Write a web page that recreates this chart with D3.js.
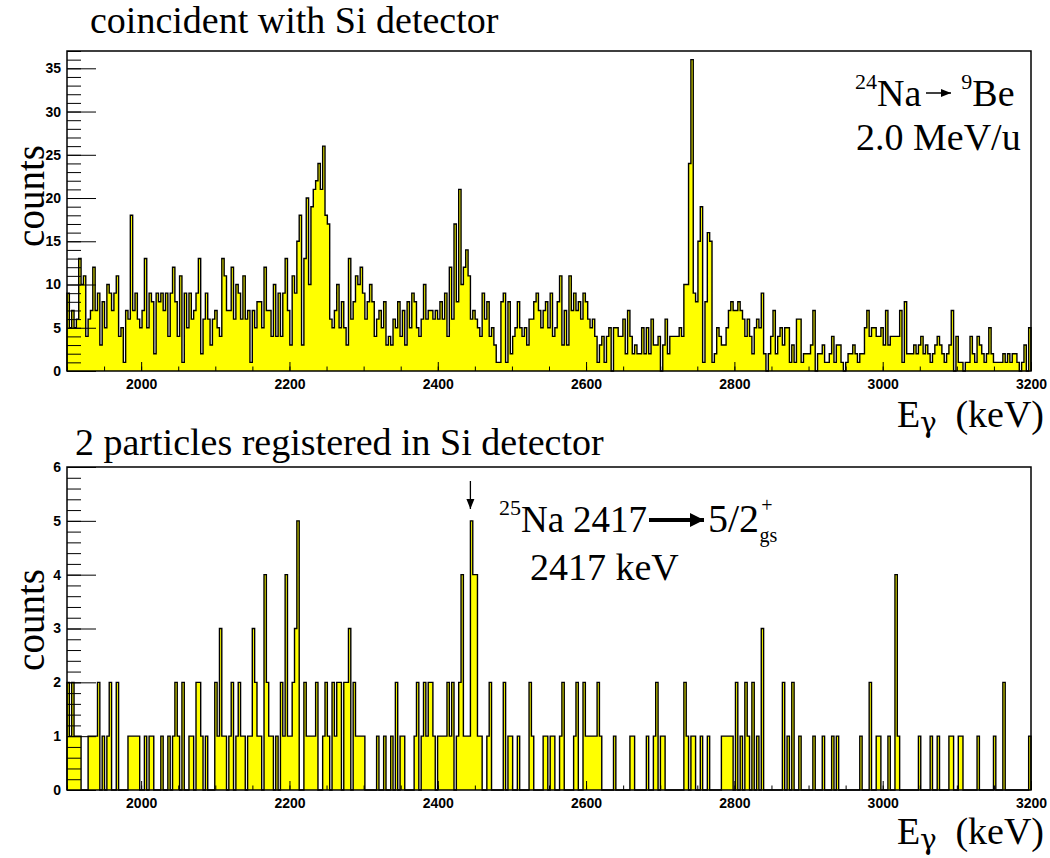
<!DOCTYPE html>
<html>
<head>
<meta charset="utf-8">
<script src="https://cdn.jsdelivr.net/npm/d3@7"></script>
<style>
  body { margin: 0; background: #fff; }
  svg { display: block; }
  .tick text { font-family: "Liberation Sans", Arial, sans-serif; font-weight: bold; font-size: 14px; fill: #000; }
  .tick line { stroke: #000; stroke-width: 1; }
  .serif { font-family: "Liberation Serif", "Times New Roman", serif; fill: #000; }
</style>
</head>
<body>
<svg id="chart" width="1050" height="858"></svg>
<script>
// energy range of both spectra (keV)
const energyRange = [1900, 3200];

// counts per bin, coincident with Si detector (left to right)
const upperCounts = [
  9,5,7,5,6,13,10,11,4,6, 7,12,7,9,3,8,5,10,9,7, 9,11,4,5,1,7,6,18,7,9, 6,5,7,13,5,9,8,2,9,8,
  9,7,9,4,9,12,8,4,11,1, 9,5,9,6,7,9,13,2,6,9, 6,3,6,7,5,4,13,11,7,7, 12,6,10,9,6,11,6,7,1,7,
  5,8,
  8,5,12,7,7,4,10,4,9,
  4,9,13,7,3,11,9,15,18,3, 13,20,10,19,21,22,24,21,26,18, 17,6,5,7,10,5,8,5,3,13, 6,8,11,10,12,9,6,8,10,8,
  4,6,7,5,8,3,4,3,6,5, 8,4,7,3,8,5,9,8,5,4, 6,10,6,7,7,6,7,6,8,6, 9,4,12,6,17,8,21,10,12,14,
  11,6,7,6,5,4,9,6,8,4, 5,3,1,
  1,8,9,1,8,2,4,5,8,5, 4,5,3,6,6,8,9,7,5,7, 8,5,9,4,5,8,11,3,7,3, 11,7,9,7,8,6,9,8,6,5,
  6,4,1,3,4,1,4,5,0,5, 5,4,4,6,2,7,4,2,3,2,
  2,5,2,5,2,6,3,3,4,0, 3,6,2,4,4,4,4,5,4,10, 10,24,36,9,8,15,19,1,8,16, 15,1,2,5,4,3,3,5,7,8,
  7,7,8,7,6,4,6,4,2,5, 6,5,9,2,0,2,4,7,2,
  4,5,3,5,5,1,3,1,6,6, 1,2,2,2,3,7,0,2,2,3, 1,1,2,4,1,3,3,1,0,1, 2,2,3,2,1,2,2,5,7,4,
  5,5,4,4,5,3,7,3,4,4, 4,4,7,1,8,2,2,2,3,2, 3,4,2,3,2,1,2,3,4,3, 2,1,2,3,7,0,4,1,1,0,
  1,1,4,2,1,4,3,2,1,2, 5,2,1,1,1,1,2,1,2,1, 2,2,1,0,1,3,0,5
];

// counts per bin, 2 particles registered in Si detector
const lowerCounts = [
  2,1,2,1,1,1,0,0,0,1, 1,1,1,2,0,1,0,1,2,0, 0,2,0,0,0,0,1,1,1,1, 1,0,0,1,0,1,1,0,0,0,
  1,0,0,1,0,1,2,1,0,2, 0,0,1,1,0,2,2,1,0,1, 0,0,0,2,1,3,1,1,0,1, 2,0,1,2,1,1,0,1,1,3,
  2,1,1,0,4,2,1,1,0,1, 0,2,1,4,1,1,2,3,5,0, 0,2,1,1,1,1,2,0,0,1, 2,1,0,2,1,2,2,0,2,2,
  3,0,2,1,1,1,1,0,0,0, 0,0,1,0,0,1,0,0,1,0, 2,0,1,1,0,0,0,0,1,2, 0,1,2,1,2,2,1,0,1,1,
  1,1,2,1,2,0,1,2,4,1, 1,1,5,4,4,1,1,0,0,1, 2,0,0,0,0,0,2,0,1,1, 0,0,1,0,0,0,0,2,1,0,
  0,0,0,1,1,0,1,1,0,0, 1,2,0,0,0,0,1,2,0,0, 2,1,1,1,1,1,2,1,0,0, 0,0,0,1,0,0,0,0,0,0,
  1,1,0,0,0,0,0,1,0,0, 1,2,0,1,1,0,0,0,0,0, 0,0,0,2,1,0,1,1,0,0, 1,0,0,1,0,0,0,0,0,1,
  1,1,1,1,0,2,0,1,0,2, 1,0,2,0,1,0,3,0,0,0, 0,0,0,0,0,2,0,1,0,2, 0,0,1,0,0,0,0,0,1,0,
  0,0,1,0,0,0,1,0,1,0, 0,0,0,0,0,0,0,0,1,0, 0,0,2,0,0,1,1,0,0,0, 1,0,0,4,1,0,0,0,0,0,
  0,0,0,1,0,0,0,0,1,0, 0,1,0,0,0,0,1,1,0,0, 1,1,0,0,0,0,0,0,1,0, 0,0,0,0,0,1,0,0,0,2,
  0,0,0,0,0,0,0,0,0,0, 1
];

const xMajor = [2000, 2200, 2400, 2600, 2800, 3000, 3200];
const upperYMajor = [0, 5, 10, 15, 20, 25, 30, 35];
const lowerYMajor = [0, 1, 2, 3, 4, 5, 6];

const svg = d3.select('#chart');

function drawPanel(cfg) {
    const x = d3.scaleLinear().domain(energyRange).range([67, 1031]);
    const y = d3.scaleLinear().domain([0, cfg.yMax]).range([cfg.bottom, cfg.top]);
    const binW = (energyRange[1] - energyRange[0]) / cfg.counts.length;

    // bin edges with the last value repeated for the step curve
    const pts = cfg.counts.map((c, i) => ({ e: energyRange[0] + i * binW, c: c }));
    pts.push({ e: energyRange[1], c: cfg.counts[cfg.counts.length - 1] });

    const g = svg.append('g');

    g.append('path')
        .datum(pts)
        .attr('fill', '#ffff00')
        .attr('d', d3.area().curve(d3.curveStepAfter)
            .x(d => x(d.e)).y0(y(0)).y1(d => y(d.c)));

    const outline = [{ e: energyRange[0], c: 0 }].concat(pts, [{ e: energyRange[1], c: 0 }]);
    g.append('path')
        .datum(outline)
        .attr('fill', 'none')
        .attr('stroke', '#000')
        .attr('stroke-width', 1.4)
        .attr('d', d3.line().curve(d3.curveStepAfter).x(d => x(d.e)).y(d => y(d.c)));

    // x axis: labelled ticks every 200, small ticks every 50
    g.append('g')
        .attr('transform', `translate(0,${cfg.bottom})`)
        .call(d3.axisBottom(x).tickValues(d3.range(1900, 3201, 50)).tickSize(-4.5).tickFormat(''))
        .call(a => a.select('.domain').remove());
    g.append('g')
        .attr('transform', `translate(0,${cfg.bottom})`)
        .call(d3.axisBottom(x).tickValues(xMajor).tickSize(-9).tickPadding(8).tickFormat(d3.format('d')))
        .call(a => a.select('.domain').remove());

    // y axis
    g.append('g')
        .attr('transform', 'translate(67,0)')
        .call(d3.axisLeft(y).tickValues(d3.range(0, cfg.yMax + 1e-9, cfg.yMinor)).tickSize(-14).tickFormat(''))
        .call(a => a.select('.domain').remove());
    g.append('g')
        .attr('transform', 'translate(67,0)')
        .call(d3.axisLeft(y).tickValues(cfg.yMajor).tickSize(-29).tickPadding(6).tickFormat(d3.format('d')))
        .call(a => a.select('.domain').remove());

    // frame
    g.append('rect')
        .attr('x', 67).attr('y', cfg.top)
        .attr('width', 1031 - 67).attr('height', cfg.bottom - cfg.top)
        .attr('fill', 'none').attr('stroke', '#000').attr('stroke-width', 1.5);

    // titles
    g.append('text').attr('class', 'serif')
        .attr('x', cfg.titleX).attr('y', cfg.titleY)
        .style('font-size', '38px')
        .text(cfg.title);

    g.append('text').attr('class', 'serif')
        .attr('transform', `translate(44,${cfg.countsY}) rotate(-90)`)
        .attr('text-anchor', 'middle')
        .style('font-size', '39px')
        .text('counts');

    const ey = cfg.bottom + cfg.eOffset;
    g.append('text').attr('class', 'serif')
        .attr('x', 897).attr('y', ey).style('font-size', '38px').text('E');
    g.append('text')
        .attr('x', 920).attr('y', ey + 5)
        .style('font-family', '"DejaVu Serif", serif').style('font-size', '28px')
        .text('\u03b3');
    g.append('text').attr('class', 'serif')
        .attr('x', 1044).attr('y', ey).attr('text-anchor', 'end')
        .style('font-size', '38px').text('(keV)');

    return { x: x, y: y, g: g };
}

const upper = drawPanel({
    counts: upperCounts, yMax: 37, top: 51, bottom: 371,
    yMajor: upperYMajor, yMinor: 1,
    title: 'coincident with Si detector', titleX: 90, titleY: 33, countsY: 196, eOffset: 56
});

const lower = drawPanel({
    counts: lowerCounts, yMax: 6, top: 467, bottom: 790,
    yMajor: lowerYMajor, yMinor: 0.2,
    title: '2 particles registered in Si detector', titleX: 75, titleY: 455, countsY: 620, eOffset: 54
});

// reaction label, upper panel
const r1 = upper.g.append('text').attr('class', 'serif').attr('x', 855).attr('y', 106).style('font-size', '38px');
r1.append('tspan').attr('dy', -17).style('font-size', '22px').text('24');
r1.append('tspan').attr('dy', 17).text('Na');
r1.append('tspan').attr('dx', 40).attr('dy', -17).style('font-size', '22px').text('9');
r1.append('tspan').attr('dy', 17).text('Be');

const defs = svg.append('defs');
defs.append('marker')
    .attr('id', 'head').attr('viewBox', '0 0 10 10')
    .attr('refX', 10).attr('refY', 5)
    .attr('markerWidth', 10).attr('markerHeight', 10)
    .attr('markerUnits', 'userSpaceOnUse')
    .attr('orient', 'auto')
    .append('path').attr('d', 'M0,1 L10,5 L0,9 Z').attr('fill', '#000');
defs.append('marker')
    .attr('id', 'headBig').attr('viewBox', '0 0 10 10')
    .attr('refX', 10).attr('refY', 5)
    .attr('markerWidth', 16).attr('markerHeight', 14)
    .attr('markerUnits', 'userSpaceOnUse')
    .attr('orient', 'auto')
    .append('path').attr('d', 'M0,0 L10,5 L0,10 Z').attr('fill', '#000');

upper.g.append('line')
    .attr('x1', 926).attr('y1', 93).attr('x2', 951).attr('y2', 93)
    .attr('stroke', '#000').attr('stroke-width', 1.5).attr('marker-end', 'url(#head)');

upper.g.append('text').attr('class', 'serif')
    .attr('x', 856).attr('y', 150).style('font-size', '38px')
    .text('2.0 MeV/u');

// 2417 keV line marker, lower panel
const peakE = 2444;
lower.g.append('line')
    .attr('x1', lower.x(peakE)).attr('y1', 481)
    .attr('x2', lower.x(peakE)).attr('y2', 509)
    .attr('stroke', '#000').attr('stroke-width', 1.3).attr('marker-end', 'url(#head)');

const r2 = lower.g.append('text').attr('class', 'serif').attr('x', 499).attr('y', 532).style('font-size', '37px');
r2.append('tspan').attr('dy', -17).style('font-size', '22px').text('25');
r2.append('tspan').attr('dy', 17).text('Na');
r2.append('tspan').attr('x', 573).text('2417');

lower.g.append('line')
    .attr('x1', 649).attr('y1', 520).attr('x2', 704).attr('y2', 520)
    .attr('stroke', '#000').attr('stroke-width', 4).attr('marker-end', 'url(#headBig)');

const r3 = lower.g.append('text').attr('class', 'serif').attr('x', 708).attr('y', 532).style('font-size', '40px');
r3.append('tspan').text('5/2');
r3.append('tspan').attr('dx', 2).attr('dy', -20).style('font-size', '20px').text('+');
r3.append('tspan').attr('dx', -13).attr('dy', 30).style('font-size', '20px').text('gs');

lower.g.append('text').attr('class', 'serif')
    .attr('x', 530).attr('y', 580).style('font-size', '38px')
    .text('2417 keV');
</script>
</body>
</html>
